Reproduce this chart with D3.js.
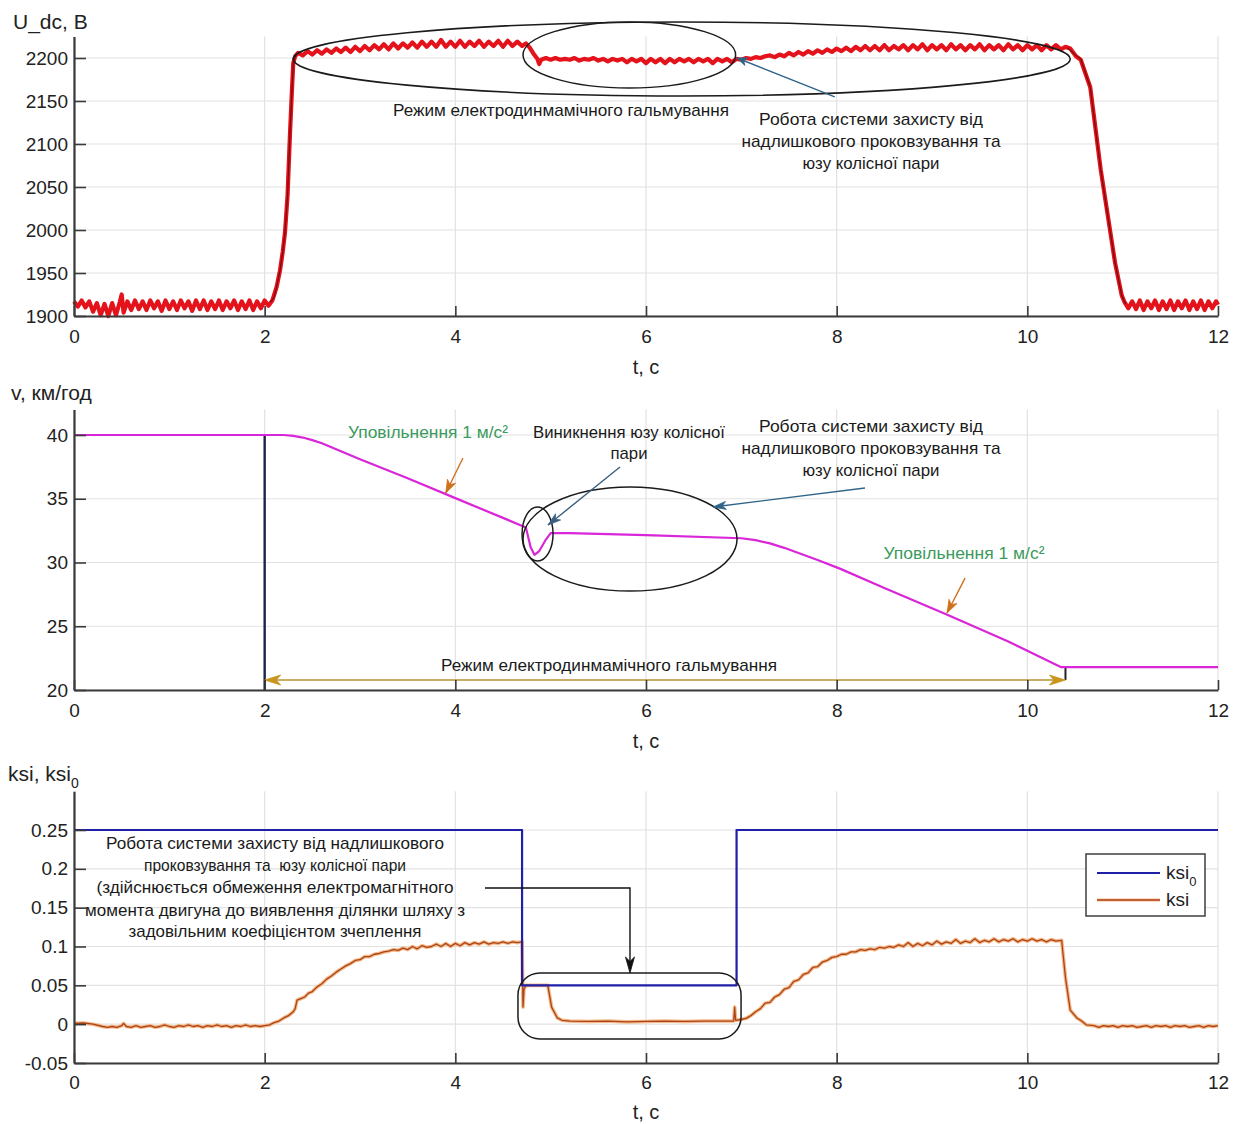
<!DOCTYPE html>
<html><head><meta charset="utf-8">
<script src="https://cdn.jsdelivr.net/npm/d3@7"></script>
<style>body{margin:0;background:#fff}</style></head>
<body><svg id="c" width="1234" height="1124"></svg>
<script>
// ---------- tick labels ----------
const tTicks = [0, 2, 4, 6, 8, 10, 12];
const udcTicks = [1900, 1950, 2000, 2050, 2100, 2150, 2200];
const vTicks = [20, 25, 30, 35, 40];
const ksiTicks = [-0.05, 0, 0.05, 0.1, 0.15, 0.2, 0.25];

// ---------- U_dc, В  [t, value] ----------
const udc = [
[0,1917],[0.04,1911],[0.08,1918],[0.12,1910],[0.16,1917],[0.2,1905],[0.24,1915],[0.28,1901],[0.32,1914],[0.36,1900],
[0.4,1915],[0.44,1901],[0.48,1916],[0.5,1925],[0.52,1904],[0.56,1917],[0.6,1907],[0.64,1918],[0.68,1908],[0.72,1917],
[0.76,1907],[0.8,1918],[0.84,1909],[0.88,1917],[0.92,1906],[0.96,1918],[1.0,1908],[1.04,1917],[1.08,1907],[1.12,1918],
[1.16,1909],[1.2,1917],[1.24,1906],[1.28,1918],[1.32,1908],[1.36,1918],[1.4,1907],[1.44,1917],[1.48,1908],[1.52,1918],
[1.56,1907],[1.6,1917],[1.64,1909],[1.68,1918],[1.72,1907],[1.76,1917],[1.8,1908],[1.84,1918],[1.88,1907],[1.92,1917],
[1.96,1909],[2.0,1918],[2.04,1912],[2.08,1918],[2.126,1934],[2.161,1953],[2.19,1975],[2.213,1997],[2.24,2040],[2.266,2113],
[2.285,2160],[2.3,2194],[2.32,2202],[2.35,2206],[2.4,2203],[2.45,2208],[2.5,2204],[2.55,2209],[2.6,2205],[2.65,2210],
[2.7,2206],[2.75,2211],[2.8,2207],[2.85,2212],[2.9,2207],[2.95,2213],[3.0,2208],[3.05,2214],[3.1,2209],[3.15,2215],
[3.2,2210],[3.25,2216],[3.3,2210],[3.35,2217],[3.4,2211],[3.45,2217],[3.5,2212],[3.55,2218],[3.6,2212],[3.65,2219],
[3.7,2213],[3.75,2219],[3.8,2213],[3.85,2221],[3.9,2213],[3.95,2219],[4.0,2213],[4.05,2220],[4.1,2213],[4.15,2219],
[4.2,2214],[4.25,2220],[4.3,2213],[4.35,2219],[4.4,2214],[4.45,2220],[4.5,2213],[4.55,2220],[4.6,2214],[4.65,2219],
[4.7,2214],[4.74,2217],[4.78,2212],[4.82,2205],[4.86,2199],[4.88,2193],[4.9,2198],[4.95,2200],[5.0,2198],[5.05,2200],
[5.1,2198],[5.15,2199],[5.2,2198],[5.25,2200],[5.3,2197],[5.35,2199],[5.4,2198],[5.45,2200],[5.5,2197],[5.55,2199],
[5.6,2196],[5.65,2199],[5.7,2197],[5.75,2199],[5.8,2195],[5.85,2199],[5.9,2196],[5.95,2199],[6.0,2194],[6.05,2199],
[6.1,2195],[6.15,2199],[6.2,2194],[6.25,2199],[6.3,2195],[6.35,2199],[6.4,2196],[6.45,2199],[6.5,2195],[6.55,2199],
[6.6,2196],[6.65,2199],[6.7,2194],[6.75,2199],[6.8,2196],[6.85,2199],[6.9,2195],[6.95,2199],[7.0,2198],[7.05,2200],
[7.1,2199],[7.15,2201],[7.2,2200],[7.25,2202],[7.3,2203],[7.35,2201],[7.4,2204],[7.45,2202],[7.5,2206],[7.55,2203],
[7.6,2207],[7.65,2204],[7.7,2208],[7.75,2205],[7.8,2209],[7.85,2206],[7.9,2210],[7.95,2207],[8.0,2211],[8.05,2208],
[8.1,2212],[8.15,2208],[8.2,2213],[8.25,2209],[8.3,2214],[8.35,2209],[8.4,2214],[8.45,2209],[8.5,2215],[8.55,2209],
[8.6,2214],[8.65,2210],[8.7,2215],[8.75,2209],[8.8,2215],[8.85,2210],[8.9,2216],[8.95,2209],[9.0,2215],[9.05,2210],
[9.1,2215],[9.15,2209],[9.2,2216],[9.25,2210],[9.3,2215],[9.35,2209],[9.4,2215],[9.45,2210],[9.5,2216],[9.55,2209],
[9.6,2215],[9.65,2210],[9.7,2215],[9.75,2209],[9.8,2216],[9.85,2210],[9.9,2215],[9.95,2209],[10.0,2215],[10.05,2210],
[10.1,2215],[10.15,2209],[10.2,2215],[10.25,2210],[10.3,2215],[10.35,2210],[10.4,2213],[10.45,2211],[10.51,2202],[10.56,2198],
[10.66,2166],[10.77,2070],[10.92,1962],[10.99,1924],[11.02,1916],[11.06,1909],[11.1,1917],[11.14,1908],[11.18,1918],[11.22,1907],
[11.26,1917],[11.3,1909],[11.34,1918],[11.38,1907],[11.42,1917],[11.46,1908],[11.5,1918],[11.54,1907],[11.58,1917],[11.62,1909],
[11.66,1918],[11.7,1907],[11.74,1917],[11.78,1908],[11.82,1918],[11.86,1907],[11.9,1917],[11.94,1909],[11.98,1917],[12,1913]
];
// smooth (filtered) U_dc during the transients (dark core)
const udcRise = [[2.06,1916],[2.1,1922],[2.126,1934],[2.161,1953],[2.19,1975],[2.213,1997],[2.24,2040],[2.266,2113],[2.285,2160],[2.3,2194],[2.33,2204]];
const udcFall = [[10.42,2212],[10.51,2203],[10.56,2199],[10.66,2166],[10.77,2070],[10.92,1962],[10.99,1924],[11.03,1914]];

// ---------- v, км/год ----------
const vel = [[0,40],[2.2,40],[2.3,39.93],[2.4,39.8],[2.5,39.6],[2.6,39.35],[3.0,38.1],[3.5,36.6],[4.0,35.05],[4.5,33.5],[4.74,32.75],
[4.79,31.2],[4.83,30.6],[4.88,30.9],[4.95,31.8],[5.0,32.3],[5.2,32.3],[6.0,32.15],[7.0,31.9],[7.15,31.75],[7.3,31.5],
[7.45,31.15],[7.6,30.75],[7.8,30.2],[8.04,29.5],[8.5,28.0],[9.16,25.9],[9.8,23.8],[10.35,21.8],[12,21.8]];

// ---------- ksi0 ----------
const ksi0 = [[0,0.25],[4.7,0.25],[4.7,0.05],[6.95,0.05],[6.95,0.25],[12,0.25]];

// ---------- ksi ----------
const ksi = [[0,0.001],[0.1,0.0015],[0.2,0],[0.3,-0.003],[0.35,-0.004],[0.4,-0.003],[0.45,-0.004],[0.5,-0.002],[0.52,0.001],[0.55,-0.003],
[0.6,-0.004],[0.65,-0.002],[0.7,-0.004],[0.75,-0.003],[0.8,-0.002],[0.85,-0.004],[0.9,-0.003],[0.95,-0.001],[1.0,-0.003],[1.05,-0.004],
[1.1,-0.002],[1.15,-0.003],[1.2,-0.001],[1.25,-0.003],[1.3,-0.002],[1.35,-0.004],[1.4,-0.002],[1.45,-0.003],[1.5,-0.001],[1.55,-0.003],
[1.6,-0.002],[1.65,-0.004],[1.7,-0.002],[1.75,-0.003],[1.8,-0.001],[1.85,-0.003],[1.9,-0.002],[1.95,-0.003],[2.0,-0.002],[2.05,-0.001],
[2.1,0.002],[2.15,0.004],[2.2,0.008],[2.25,0.011],[2.3,0.016],[2.32,0.02],[2.34,0.031],[2.38,0.033],[2.42,0.035],[2.46,0.040],
[2.5,0.042],[2.55,0.048],[2.6,0.052],[2.65,0.058],[2.7,0.062],[2.75,0.067],[2.8,0.071],[2.85,0.075],[2.9,0.078],[2.95,0.082],
[3.0,0.083],[3.05,0.087],[3.1,0.087],[3.15,0.090],[3.2,0.091],[3.25,0.093],[3.3,0.094],[3.35,0.096],[3.4,0.095],[3.45,0.098],
[3.5,0.096],[3.55,0.1],[3.6,0.097],[3.65,0.101],[3.7,0.099],[3.75,0.1],[3.8,0.103],[3.85,0.1],[3.9,0.104],[3.95,0.1],
[4.0,0.104],[4.05,0.101],[4.1,0.105],[4.15,0.102],[4.2,0.105],[4.25,0.103],[4.3,0.106],[4.35,0.103],[4.4,0.105],[4.45,0.104],
[4.5,0.106],[4.55,0.104],[4.6,0.106],[4.65,0.105],[4.7,0.106],[4.71,0.022],[4.72,0.045],[4.74,0.05],[4.97,0.05],[5.01,0.022],
[5.07,0.008],[5.12,0.005],[5.2,0.004],[5.4,0.0035],[5.6,0.004],[5.8,0.003],[6.0,0.0035],[6.2,0.004],[6.4,0.0035],[6.6,0.004],
[6.8,0.004],[6.92,0.004],[6.93,0.022],[6.94,0.005],[7.0,0.006],[7.05,0.0075],[7.1,0.011],[7.15,0.016],[7.2,0.02],[7.25,0.027],
[7.3,0.028],[7.35,0.035],[7.4,0.038],[7.45,0.045],[7.5,0.047],[7.55,0.055],[7.6,0.057],[7.65,0.064],[7.7,0.066],[7.75,0.073],
[7.8,0.074],[7.85,0.080],[7.9,0.082],[7.95,0.086],[8.0,0.087],[8.05,0.090],[8.1,0.090],[8.15,0.093],[8.2,0.093],[8.25,0.096],
[8.3,0.095],[8.35,0.097],[8.4,0.096],[8.45,0.099],[8.5,0.098],[8.55,0.1],[8.6,0.099],[8.65,0.102],[8.7,0.100],[8.75,0.105],
[8.8,0.1],[8.85,0.104],[8.9,0.101],[8.95,0.105],[9.0,0.102],[9.05,0.107],[9.1,0.103],[9.15,0.106],[9.2,0.104],[9.25,0.109],
[9.3,0.104],[9.35,0.107],[9.4,0.105],[9.45,0.110],[9.5,0.105],[9.55,0.108],[9.6,0.106],[9.65,0.110],[9.7,0.106],[9.75,0.109],
[9.8,0.107],[9.85,0.110],[9.9,0.106],[9.95,0.109],[10.0,0.107],[10.05,0.110],[10.1,0.107],[10.15,0.109],[10.2,0.106],[10.25,0.109],
[10.3,0.107],[10.36,0.108],[10.4,0.06],[10.45,0.018],[10.52,0.008],[10.57,0.004],[10.62,-0.001],[10.7,-0.002],[10.75,-0.004],[10.8,-0.002],
[10.85,-0.003],[10.9,-0.002],[10.95,-0.004],[11.0,-0.002],[11.05,-0.003],[11.1,-0.002],[11.15,-0.004],[11.2,-0.003],[11.25,-0.002],[11.3,-0.004],
[11.35,-0.002],[11.4,-0.003],[11.45,-0.002],[11.5,-0.004],[11.55,-0.002],[11.6,-0.003],[11.65,-0.002],[11.7,-0.004],[11.75,-0.003],[11.8,-0.002],
[11.85,-0.004],[11.9,-0.002],[11.95,-0.003],[12,-0.002]];

// ---------- layout ----------
const svg = d3.select("#c");
const X0 = 74, X1 = 1218;
const x = d3.scaleLinear([0, 12], [X0, X1]);
const y1 = d3.scaleLinear([1900, 2225], [316, 316 - 325 * 0.86]);
const y2 = d3.scaleLinear([20, 42], [690, 690 - 22 * 12.75]);
const y3 = d3.scaleLinear([-0.05, 0.3], [1063, 1063 - 0.35 * 776.67]);

const tickFont = "'Liberation Sans', Arial, sans-serif";
const annFont = "'Liberation Sans Narrow', 'Arial Narrow', 'Liberation Sans', sans-serif";

function panel(y, yTicks) {
  const g = svg.append("g");
  const [yb, yt] = y.range();
  g.append("g").selectAll("line").data(tTicks).join("line")
    .attr("x1", d => x(d)).attr("x2", d => x(d)).attr("y1", yt).attr("y2", yb)
    .attr("stroke", "#e2e2e2").attr("stroke-width", 1.2);
  g.append("g").selectAll("line").data(yTicks).join("line")
    .attr("x1", X0).attr("x2", X1).attr("y1", d => y(d)).attr("y2", d => y(d))
    .attr("stroke", "#e2e2e2").attr("stroke-width", 1.2);
  return g;
}
function axes(y, yTicks, padX) {
  const g = svg.append("g");
  const [yb] = y.range();
  const ax = g.append("g").attr("transform", `translate(${X0},0)`)
    .call(d3.axisLeft(y).tickValues(yTicks).tickSize(-12).tickSizeOuter(0).tickPadding(6).tickFormat(d => String(d)));
  const bx = g.append("g").attr("transform", `translate(0,${yb})`)
    .call(d3.axisBottom(x).tickValues(tTicks).tickSize(-10).tickSizeOuter(0).tickPadding(padX).tickFormat(d => String(d)));
  [ax, bx].forEach(a => {
    a.select(".domain").attr("stroke", "#3a3a3a").attr("stroke-width", 2.2);
    a.selectAll(".tick line").attr("stroke", "#3a3a3a").attr("stroke-width", 1.6);
    a.selectAll(".tick text").attr("font-family", tickFont).attr("font-size", 19).attr("fill", "#222");
  });
  return g;
}
function lineP(g, data, y, color, w, curve) {
  const ln = d3.line().x(d => x(d[0])).y(d => y(d[1]));
  if (curve) ln.curve(curve);
  g.append("path").datum(data).attr("d", ln)
    .attr("fill", "none").attr("stroke", color).attr("stroke-width", w)
    .attr("stroke-linejoin", "round");
}
function ellipseD(g, y, t0, t1, v0, v1, w) {
  g.append("ellipse").attr("cx", (x(t0) + x(t1)) / 2).attr("cy", (y(v0) + y(v1)) / 2)
    .attr("rx", Math.abs(x(t1) - x(t0)) / 2).attr("ry", Math.abs(y(v1) - y(v0)) / 2)
    .attr("fill", "none").attr("stroke", "#1b1b1b").attr("stroke-width", w || 1.5);
}
function head(g, x1, y1p, x2, y2p, len, wid, color) {
  const dx = x2 - x1, dy = y2p - y1p, L = Math.hypot(dx, dy);
  const ux = dx / L, uy = dy / L, nx = -uy, ny = ux;
  const bx = x2 - ux * len, by = y2p - uy * len;
  const mx = x2 - ux * len * 0.72, my = y2p - uy * len * 0.72;
  g.append("path").attr("d", `M${x2},${y2p}L${bx + nx * wid / 2},${by + ny * wid / 2}L${mx},${my}L${bx - nx * wid / 2},${by - ny * wid / 2}Z`)
    .attr("fill", color).attr("stroke", color).attr("stroke-width", 0.8);
}
function arrowD(g, y, t0, v0, t1, v1, color, len, wid, w) {
  const a = [x(t0), y(v0)], b = [x(t1), y(v1)];
  g.append("line").attr("x1", a[0]).attr("y1", a[1]).attr("x2", b[0]).attr("y2", b[1])
    .attr("stroke", color).attr("stroke-width", w || 1.5);
  head(g, a[0], a[1], b[0], b[1], len, wid, color);
}
function txt(g, px, py, s, width, color, size) {
  return g.append("text").attr("x", px).attr("y", py).attr("text-anchor", "middle")
    .attr("font-family", annFont).attr("font-size", size || 17).attr("fill", color || "#1a1a1a")
    .attr("textLength", width).attr("lengthAdjust", "spacingAndGlyphs").text(s);
}
function xTitle(py) {
  svg.append("text").attr("x", 646).attr("y", py).attr("text-anchor", "middle")
    .attr("font-family", tickFont).attr("font-size", 20).attr("fill", "#222").text("t, с");
}

// ================= Panel 1 =================
const g1 = panel(y1, udcTicks);
lineP(g1, udc, y1, "#e3121b", 4.2);
lineP(g1, udcRise, y1, "#6e0b0b", 1.1);
lineP(g1, udcFall, y1, "#6e0b0b", 1.1);
ellipseD(g1, y1, 2.30, 10.45, 2241.9, 2155.8, 1.6);
ellipseD(g1, y1, 4.71, 6.94, 2241.9, 2165.1, 1.5);
arrowD(g1, y1, 7.98, 2154.7, 6.955, 2200, "#2f6488", 10, 8, 1.4);
txt(g1, 561, 116, "Режим електродинмамічного гальмування", 336);
txt(g1, 871, 125, "Робота системи захисту від", 224);
txt(g1, 871, 147, "надлишкового проковзування та", 259);
txt(g1, 871, 169, "юзу колісної пари", 137);
axes(y1, udcTicks, 14);
svg.append("text").attr("x", 13).attr("y", 29).attr("font-family", tickFont).attr("font-size", 21).attr("fill", "#222").text("U_dc, В");
xTitle(374);

// ================= Panel 2 =================
const g2 = panel(y2, vTicks);
g2.append("line").attr("x1", x(2)).attr("x2", x(2)).attr("y1", y2(40)).attr("y2", y2(20))
  .attr("stroke", "#1d2350").attr("stroke-width", 2.4);
g2.append("line").attr("x1", x(10.4)).attr("x2", x(10.4)).attr("y1", y2(20.78)).attr("y2", y2(21.8))
  .attr("stroke", "#222").attr("stroke-width", 2);
g2.append("line").attr("x1", x(2.05)).attr("x2", x(10.35)).attr("y1", y2(20.78)).attr("y2", y2(20.78))
  .attr("stroke", "#b8902e").attr("stroke-width", 1.5);
head(g2, x(4), y2(20.78), x(2), y2(20.78), 16, 10, "#c8961e");
head(g2, x(8), y2(20.78), x(10.4), y2(20.78), 16, 10, "#c8961e");
lineP(g2, vel, y2, "#d826d8", 2.2);
ellipseD(g2, y2, 4.71, 6.955, 35.92, 27.76, 1.5);
ellipseD(g2, y2, 4.70, 5.025, 34.35, 30.12, 1.5);
arrowD(g2, y2, 4.08, 38.2, 3.90, 35.45, "#d0701c", 13, 9, 1.4);
arrowD(g2, y2, 9.347, 28.78, 9.158, 26.04, "#d0701c", 13, 9, 1.4);
arrowD(g2, y2, 5.727, 37.49, 4.972, 32.94, "#3a5f80", 13, 8, 1.4);
arrowD(g2, y2, 8.297, 35.84, 6.703, 34.35, "#2f6488", 13, 8, 1.4);
txt(g2, 428, 438, "Уповільнення 1 м/с²", 160, "#3b9a5c");
txt(g2, 629, 438, "Виникнення юзу колісної", 192);
txt(g2, 629, 459, "пари", 37);
txt(g2, 871, 432, "Робота системи захисту від", 224);
txt(g2, 871, 454, "надлишкового проковзування та", 259);
txt(g2, 871, 476, "юзу колісної пари", 137);
txt(g2, 964, 559, "Уповільнення 1 м/с²", 161, "#3b9a5c");
txt(g2, 609, 671, "Режим електродинмамічного гальмування", 336);
axes(y2, vTicks, 14);
svg.append("text").attr("x", 11).attr("y", 400).attr("font-family", tickFont).attr("font-size", 21).attr("fill", "#222").text("v, км/год");
xTitle(748);

// ================= Panel 3 =================
const g3 = panel(y3, ksiTicks);
lineP(g3, ksi, y3, "#f7b684", 3.6);
lineP(g3, ksi, y3, "#a8461a", 1.3);
lineP(g3, ksi0, y3, "#1f1fa8", 2.2);
g3.append("rect").attr("x", x(4.657)).attr("y", y3(0.0659))
  .attr("width", x(6.997) - x(4.657)).attr("height", y3(-0.0191) - y3(0.0659))
  .attr("rx", 22).attr("ry", 22).attr("fill", "none").attr("stroke", "#1b1b1b").attr("stroke-width", 1.5);
g3.append("path").attr("d", `M${x(4.311)},${y3(0.1753)}H${x(5.832)}V${y3(0.0659) - 10}`)
  .attr("fill", "none").attr("stroke", "#111").attr("stroke-width", 1.4);
head(g3, x(5.832), y3(0.1753), x(5.832), y3(0.0659), 16, 9, "#111");
[["Робота системи захисту від надлишкового", 849, 338],
 ["проковзування та  юзу колісної пари", 871, 262],
 ["(здійснюється обмеження електромагнітного", 893, 357],
 ["момента двигуна до виявлення ділянки шляху з", 916, 380],
 ["задовільним коефіцієнтом зчеплення", 937, 293]]
 .forEach(r => txt(g3, 275, r[1], r[0], r[2]).attr("xml:space", "preserve"));
axes(y3, ksiTicks, 13);
const yl = svg.append("text").attr("x", 8).attr("y", 781).attr("font-family", tickFont).attr("font-size", 21).attr("fill", "#222");
yl.append("tspan").text("ksi, ksi");
yl.append("tspan").attr("dy", 7).attr("font-size", 14).text("0");
xTitle(1119);

// legend
const lg = svg.append("g");
lg.append("rect").attr("x", 1086).attr("y", 854).attr("width", 119).attr("height", 62)
  .attr("fill", "#fff").attr("stroke", "#4a4a4a").attr("stroke-width", 1.6);
lg.append("line").attr("x1", 1097).attr("x2", 1160).attr("y1", 873).attr("y2", 873).attr("stroke", "#1f1fa8").attr("stroke-width", 2);
lg.append("line").attr("x1", 1097).attr("x2", 1160).attr("y1", 900).attr("y2", 900).attr("stroke", "#f7b684").attr("stroke-width", 3.2);
lg.append("line").attr("x1", 1097).attr("x2", 1160).attr("y1", 900).attr("y2", 900).attr("stroke", "#a8461a").attr("stroke-width", 1.3);
const l1 = lg.append("text").attr("x", 1166).attr("y", 879).attr("font-family", tickFont).attr("font-size", 19).attr("fill", "#222");
l1.append("tspan").text("ksi");
l1.append("tspan").attr("dy", 7).attr("font-size", 13).text("0");
lg.append("text").attr("x", 1166).attr("y", 906).attr("font-family", tickFont).attr("font-size", 19).attr("fill", "#222").text("ksi");
</script></body></html>
